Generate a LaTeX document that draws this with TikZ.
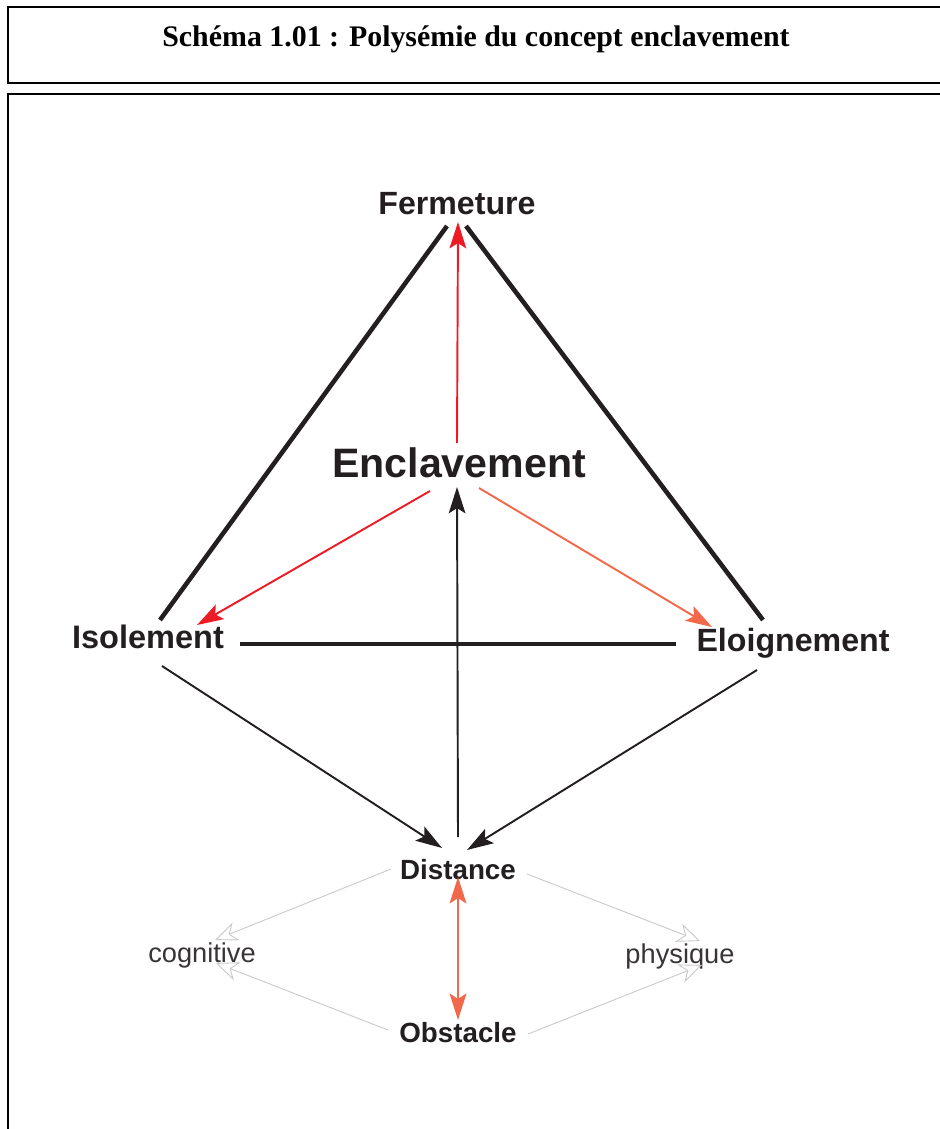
\documentclass[tikz,border=0pt]{standalone}
\usepackage{fontspec}
\setmainfont{Liberation Sans}
\newfontfamily\titlefont{Liberation Serif}
\usetikzlibrary{arrows.meta}
\definecolor{flamered}{RGB}{237,28,36}
\definecolor{salmonred}{RGB}{242,104,74}
\definecolor{palegrey}{RGB}{200,200,200}
\definecolor{inkblack}{RGB}{35,31,32}

\begin{document}
\begin{tikzpicture}[x=0.2mm, y=-0.2mm,
        term/.style={anchor=base, inner sep=0pt, text=inkblack, font=\bfseries\fontsize{18.3}{20}\selectfont},
        small term/.style={term, font=\bfseries\fontsize{15.8}{18}\selectfont},
        sub/.style={anchor=base, inner sep=0pt, text=inkblack!90, font=\fontsize{15.5}{18}\selectfont},
        tip/.style={-{Stealth[length=15pt, width=9.5pt, inset=3pt]}},
        thick link/.style={draw=inkblack, line width=2.6pt},
        thin link/.style={draw=inkblack, inkblack, line width=1.1pt, tip},
        hollow/.style={draw=palegrey, line width=0.5pt, -{Stealth[open, length=13pt, width=11pt, inset=4pt]}},
        frame/.style={draw=black, line width=1.2pt}]
        \useasboundingbox (0,0) rectangle (939,1129);
        \draw[frame] (8,7) rectangle (960,83);
        \draw[frame] (8,94) rectangle (960,1150);
        \node[anchor=base, font=\titlefont\bfseries\fontsize{17}{20}\selectfont] (title) at (476,47) {Schéma 1.01 : Polysémie du concept enclavement};

        \node[term] (ferm) at (457,215) {Fermeture};
        \node[term, font=\bfseries\fontsize{23.4}{26}\selectfont] (encl) at (459,477) {Enclavement};
        \node[term, font=\bfseries\fontsize{18.5}{20}\selectfont] (isol) at (148,648) {Isolement};
        \node[term] (eloi) at (793,651) {Eloignement};
        \node[small term] (dist) at (458,879) {Distance};
        \node[small term] (obst) at (458,1042) {Obstacle};
        \node[sub] (cogn) at (202,962) {cognitive};
        \node[sub] (phys) at (680,963) {physique};

        % triangle
        \path
        ([shift={(12,-28)}]isol.base) edge[thick link] ([shift={(-10,11)}]ferm.base)
        ([shift={(9,11)}]ferm.base) edge[thick link] ([shift={(-30,-31)}]eloi.base)
        ([shift={(92,-4)}]isol.base) edge[thick link] ([shift={(-117,-7)}]eloi.base);

        % from Enclavement
        \path
        ([shift={(-2,-34)}]encl.base) edge[thin link, draw=flamered, flamered] ([shift={(1,7)}]ferm.base)
        ([shift={(-29,14)}]encl.base) edge[thin link, draw=flamered, flamered] ([shift={(49,-23)}]isol.base)
        ([shift={(20,11)}]encl.base) edge[thin link, draw=salmonred, salmonred] ([shift={(-81,-24)}]eloi.base);

        % to Distance and back up
        \path
        ([shift={(14,18)}]isol.base) edge[thin link] ([shift={(-16,-31)}]dist.base)
        ([shift={(-36,19)}]eloi.base) edge[thin link] ([shift={(9,-29)}]dist.base)
        ([shift={(0,-42)}]dist.base) edge[thin link] ([shift={(-2,10)}]encl.base);

        \draw[salmonred, line width=1.6pt, {Stealth[length=15pt, width=9.5pt, inset=3pt]}-{Stealth[length=15pt, width=9.5pt, inset=3pt]}]
        ([shift={(0,-2)}]dist.base) -- ([shift={(0,-22)}]obst.base);

        % cognitive / physique
        \path
        ([shift={(-67,-10)}]dist.base) edge[hollow] ([shift={(13,-22)}]cogn.base)
        ([shift={(-70,-12)}]obst.base) edge[hollow] ([shift={(14,1)}]cogn.base)
        ([shift={(69,-5)}]dist.base) edge[hollow] ([shift={(20,-22)}]phys.base)
        ([shift={(70,-8)}]obst.base) edge[hollow] ([shift={(22,2)}]phys.base);
\end{tikzpicture}
\end{document}
